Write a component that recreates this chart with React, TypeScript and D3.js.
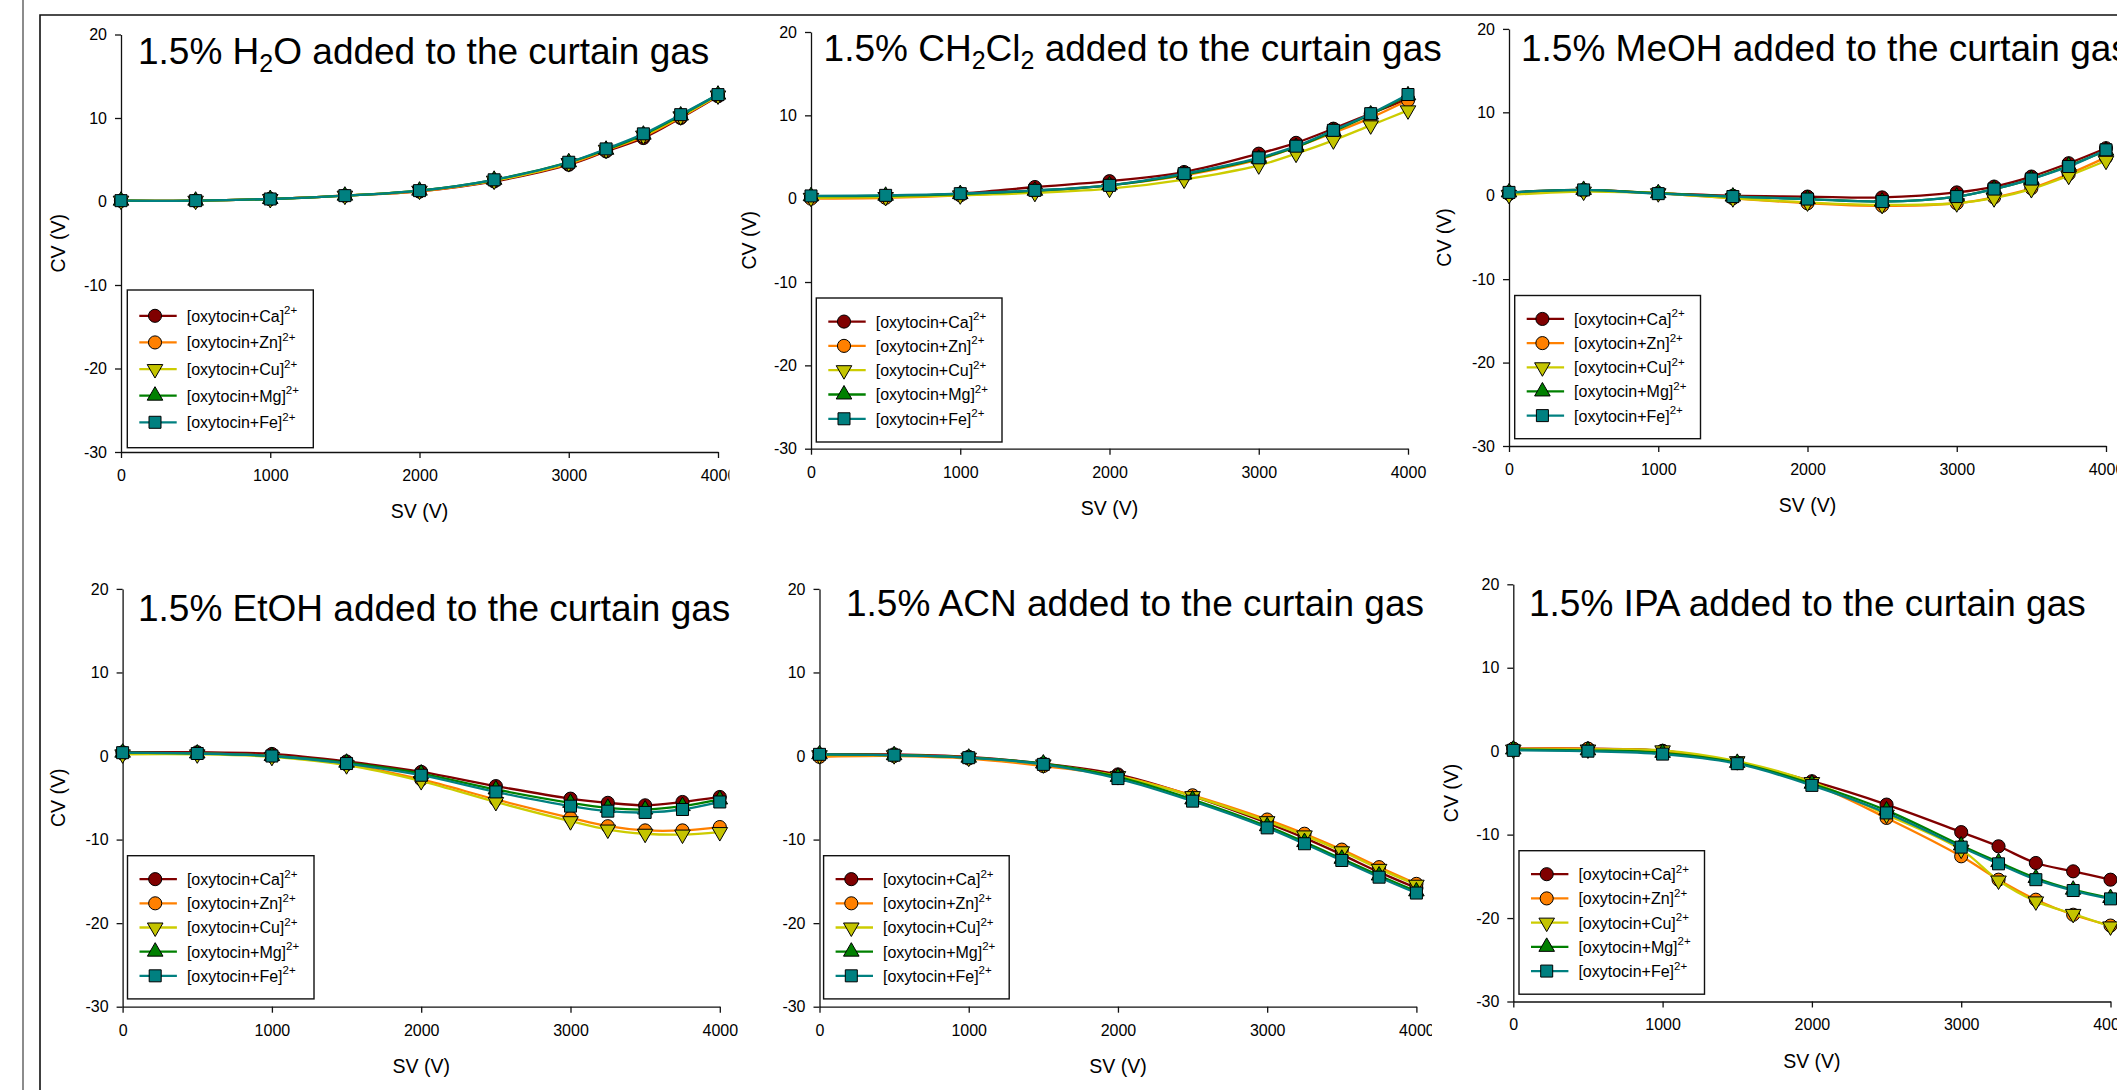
import React, { useEffect, useRef } from "react";
import * as d3 from "d3";

const W = 2117;
const H = 1090;

// SV steps (V) and axis ticks
const svSteps = [0, 500, 1000, 1500, 2000, 2500, 3000, 3250, 3500, 3750, 4000];
const xTicks = [0, 1000, 2000, 3000, 4000];
const yTicks = [-30, -20, -10, 0, 10, 20];
const seriesNames = ["[oxytocin+Ca]", "[oxytocin+Zn]", "[oxytocin+Cu]", "[oxytocin+Mg]", "[oxytocin+Fe]"];

// CV (V), one row per series: Ca, Zn, Cu, Mg, Fe
const cvH2O = [
  [0.1, 0.1, 0.3, 0.7, 1.2, 2.4, 4.4, 6.0, 7.6, 10.0, 12.6],
  [0.1, 0.1, 0.3, 0.7, 1.2, 2.5, 4.5, 6.1, 7.8, 10.1, 12.7],
  [0.1, 0.1, 0.3, 0.7, 1.3, 2.5, 4.6, 6.2, 7.9, 10.2, 12.7],
  [0.1, 0.1, 0.3, 0.7, 1.3, 2.6, 4.7, 6.2, 8.0, 10.3, 12.8],
  [0.1, 0.1, 0.3, 0.7, 1.3, 2.6, 4.7, 6.3, 8.1, 10.4, 12.8],
];
const cvCH2Cl2 = [
  [0.25, 0.3, 0.6, 1.4, 2.1, 3.2, 5.4, 6.7, 8.4, 10.2, 12.0],
  [0.0, 0.1, 0.4, 0.9, 1.6, 2.8, 4.7, 6.2, 7.9, 9.7, 11.8],
  [0.1, 0.2, 0.4, 0.7, 1.2, 2.3, 4.0, 5.4, 7.0, 8.8, 10.6],
  [0.3, 0.35, 0.55, 0.95, 1.6, 2.9, 4.8, 6.2, 8.1, 10.1, 12.4],
  [0.33, 0.4, 0.6, 1.0, 1.6, 3.0, 4.9, 6.3, 8.2, 10.2, 12.5],
];
const cvMeOH = [
  [0.4, 0.7, 0.3, 0.0, -0.1, -0.2, 0.4, 1.1, 2.3, 3.9, 5.7],
  [0.2, 0.6, 0.3, -0.3, -0.9, -1.2, -0.9, -0.2, 0.9, 2.6, 4.6],
  [0.1, 0.5, 0.3, -0.3, -0.8, -1.1, -0.9, -0.3, 0.8, 2.4, 4.2],
  [0.4, 0.7, 0.3, -0.1, -0.4, -0.7, -0.1, 0.8, 2.0, 3.6, 5.4],
  [0.4, 0.7, 0.25, -0.1, -0.4, -0.7, -0.1, 0.8, 2.0, 3.5, 5.5],
];
const cvEtOH = [
  [0.45, 0.45, 0.25, -0.65, -1.9, -3.6, -5.1, -5.6, -5.9, -5.5, -4.9],
  [0.3, 0.3, 0.0, -1.0, -2.8, -5.2, -7.4, -8.4, -8.9, -8.9, -8.5],
  [0.2, 0.2, -0.1, -1.1, -3.0, -5.5, -7.8, -8.8, -9.3, -9.4, -9.1],
  [0.4, 0.3, 0.0, -0.8, -2.1, -4.0, -5.6, -6.2, -6.4, -6.0, -5.2],
  [0.4, 0.3, 0.0, -0.9, -2.3, -4.3, -6.0, -6.6, -6.75, -6.4, -5.5],
];
const cvACN = [
  [0.2, 0.2, -0.1, -0.9, -2.2, -4.8, -8.0, -9.8, -11.8, -13.9, -15.8],
  [-0.1, 0.0, -0.3, -1.2, -2.4, -4.7, -7.6, -9.3, -11.2, -13.3, -15.3],
  [0.1, 0.1, -0.2, -1.0, -2.4, -4.8, -7.8, -9.5, -11.4, -13.5, -15.4],
  [0.2, 0.1, -0.2, -0.9, -2.5, -5.2, -8.4, -10.3, -12.3, -14.3, -16.2],
  [0.2, 0.1, -0.2, -1.0, -2.7, -5.4, -8.6, -10.5, -12.5, -14.5, -16.4],
];
const cvIPA = [
  [0.3, 0.3, 0.05, -1.4, -3.6, -6.4, -9.7, -11.4, -13.4, -14.4, -15.4],
  [0.3, 0.3, 0.0, -1.4, -3.9, -8.0, -12.6, -15.4, -17.8, -19.6, -20.9],
  [0.2, 0.2, 0.1, -1.2, -3.7, -7.6, -11.8, -15.5, -18.0, -19.5, -21.0],
  [0.2, 0.1, -0.2, -1.4, -3.9, -7.1, -11.3, -13.3, -15.2, -16.6, -17.6],
  [0.1, 0.0, -0.35, -1.5, -4.1, -7.4, -11.5, -13.5, -15.4, -16.7, -17.7],
];

// styles
const lineColors = ["#800000", "#ff8000", "#cccc00", "#008000", "#008080"];
const fillColors = ["#800000", "#ff8000", "#c4c400", "#008000", "#008080"];
const symbols = [
  { type: d3.symbolCircle, size: 135, rot: 0 },
  { type: d3.symbolCircle, size: 135, rot: 0 },
  { type: d3.symbolTriangle, size: 105, rot: 180 },
  { type: d3.symbolTriangle, size: 105, rot: 0 },
  { type: d3.symbolSquare, size: 144, rot: 0 },
];

// panel layout (pixels) and title pieces
const panels = [
  { data: cvH2O, title: [["1.5% H"], ["2", "sub"], ["O added to the curtain gas"]],
    x0: 121, x1: 718, yTop: 34.5, yBot: 452, tx: 138, ty: 64, legend: [127.3, 290, 313.3, 447.7], labX: 58, clip: [0, 729.5] },
  { data: cvCH2Cl2, title: [["1.5% CH"], ["2", "sub"], ["Cl"], ["2", "sub"], [" added to the curtain gas"]],
    x0: 811, x1: 1408, yTop: 32, yBot: 448.7, tx: 823.6, ty: 60.8, legend: [816.3, 298, 1002, 442], labX: 748.5, clip: [729.5, W] },
  { data: cvMeOH, title: [["1.5% MeOH added to the curtain gas"]],
    x0: 1509, x1: 2106, yTop: 28.9, yBot: 446, tx: 1521, ty: 60.8, legend: [1514.7, 295.5, 1700.5, 438.7], labX: 1444.4, clip: [1425, W] },
  { data: cvEtOH, title: [["1.5% EtOH added to the curtain gas"]],
    x0: 122.6, x1: 719.8, yTop: 588.9, yBot: 1006.7, tx: 138, ty: 621, legend: [127.5, 855.7, 314, 998.9], labX: 58, clip: [0, W] },
  { data: cvACN, title: [["1.5% ACN added to the curtain gas"]],
    x0: 819.5, x1: 1416.4, yTop: 588.9, yBot: 1006.7, tx: 846, ty: 616.4, legend: [823.6, 855.7, 1009.2, 998.9], labX: 748, clip: [765, 1432] },
  { data: cvIPA, title: [["1.5% IPA added to the curtain gas"]],
    x0: 1513.3, x1: 2110.5, yTop: 584.3, yBot: 1001.5, tx: 1529, ty: 616.4, legend: [1519, 850.7, 1704.5, 994.2], labX: 1451, clip: [1432, W] },
];

const font = "'Liberation Sans', Arial, Helvetica, sans-serif";

function drawMarker(sel: any, si: number) {
  const s = symbols[si];
  sel.attr("d", d3.symbol(s.type, s.size)())
    .attr("fill", fillColors[si])
    .attr("stroke", "#000")
    .attr("stroke-width", 1);
}

export default function App() {
  const ref = useRef<SVGSVGElement>(null);

  useEffect(() => {
    const svg = d3.select(ref.current);
    svg.selectAll("*").remove();
    svg.append("rect").attr("width", W).attr("height", H).attr("fill", "#fff");

    // outer frame
    svg.append("line").attr("x1", 23).attr("x2", 23).attr("y1", 0).attr("y2", H)
      .attr("stroke", "#8c8c8c").attr("stroke-width", 2);
    svg.append("path").attr("d", `M${W},15H40V${H}`).attr("fill", "none")
      .attr("stroke", "#111").attr("stroke-width", 1.6);

    const defs = svg.append("defs");

    panels.forEach((p, pi) => {
      defs.append("clipPath").attr("id", "pclip" + pi).append("rect")
        .attr("x", p.clip[0]).attr("y", 0).attr("width", p.clip[1] - p.clip[0]).attr("height", H);
      const g = svg.append("g").attr("clip-path", `url(#pclip${pi})`);

      const x = d3.scaleLinear().domain([0, 4000]).range([p.x0, p.x1]);
      const y = d3.scaleLinear().domain([-30, 20]).range([p.yBot, p.yTop]);

      const yAxis = g.append("g").attr("transform", `translate(${p.x0},0)`)
        .call(d3.axisLeft(y).tickValues(yTicks).tickSize(6).tickSizeOuter(0).tickPadding(8).tickFormat((d: any) => String(d)));
      const xAxis = g.append("g").attr("transform", `translate(0,${p.yBot})`)
        .call(d3.axisBottom(x).tickValues(xTicks).tickSize(6).tickSizeOuter(0).tickPadding(11.5).tickFormat((d: any) => String(d)));
      [yAxis, xAxis].forEach((a) => {
        a.attr("font-family", font).attr("font-size", 16);
        a.selectAll("path, line").attr("stroke", "#111").attr("stroke-width", 1.3);
        a.selectAll("text").attr("fill", "#000");
      });

      // axis titles
      g.append("text").attr("transform", `translate(${p.labX + 7},${(p.yTop + p.yBot) / 2}) rotate(-90)`)
        .attr("text-anchor", "middle").attr("font-family", font).attr("font-size", 19.5).text("CV (V)");
      g.append("text").attr("x", (p.x0 + p.x1) / 2).attr("y", p.yBot + 66)
        .attr("text-anchor", "middle").attr("font-family", font).attr("font-size", 19.5).text("SV (V)");

      // panel title with subscripts
      const t = g.append("text").attr("x", p.tx).attr("y", p.ty).attr("font-family", font).attr("font-size", 37);
      let low = false;
      p.title.forEach((part) => {
        const ts = t.append("tspan").text(part[0]);
        if (part[1] === "sub") {
          ts.attr("font-size", 25);
          if (!low) ts.attr("dy", 8);
          low = true;
        } else if (low) {
          ts.attr("dy", -8);
          low = false;
        }
      });

      // series
      const line = d3.line<number>()
        .x((d, i) => x(svSteps[i]))
        .y((d) => y(d))
        .curve(d3.curveCatmullRom);
      p.data.forEach((vals, si) => {
        g.append("path").attr("d", line(vals)).attr("fill", "none")
          .attr("stroke", lineColors[si]).attr("stroke-width", 2.3);
        const m = g.append("g").selectAll("path").data(vals).join("path")
          .attr("transform", (d, i) => `translate(${x(svSteps[i])},${y(d)}) rotate(${symbols[si].rot})`);
        drawMarker(m, si);
      });

      // legend
      const [lx0, ly0, lx1, ly1] = p.legend;
      const lh = ly1 - ly0;
      const step = (lh * 26.5) / 157;
      const first = ly0 + (lh * 25.7) / 157;
      g.append("rect").attr("x", lx0).attr("y", ly0).attr("width", lx1 - lx0).attr("height", lh)
        .attr("fill", "#fff").attr("stroke", "#111").attr("stroke-width", 1.4);
      seriesNames.forEach((name, si) => {
        const cy = first + si * step;
        g.append("line").attr("x1", lx0 + 12).attr("x2", lx0 + 49.4).attr("y1", cy).attr("y2", cy)
          .attr("stroke", lineColors[si]).attr("stroke-width", 2.3);
        const mk = g.append("path").attr("transform", `translate(${lx0 + 27.7},${cy}) rotate(${symbols[si].rot})`);
        drawMarker(mk, si);
        const lt = g.append("text").attr("x", lx0 + 59.4).attr("y", cy + 6)
          .attr("font-family", font).attr("font-size", 16).text(name);
        lt.append("tspan").attr("font-size", 11.5).attr("dy", -7.5).text("2+");
      });
    });
  }, []);

  return (
    <svg ref={ref} width={W} height={H}
      style={{ position: "absolute", left: 0, top: 0, display: "block", background: "#fff" }} />
  );
}
